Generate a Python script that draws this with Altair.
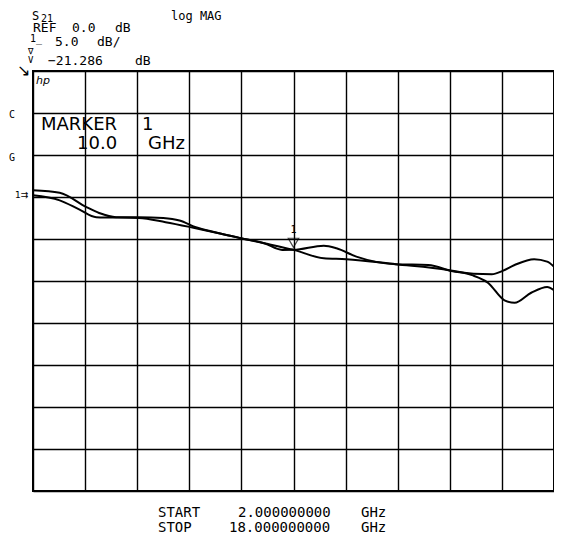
import altair as alt
import pandas as pd

# ---- data ----
freq1 = [2.0, 2.82, 3.64, 4.03, 4.55, 5.25, 6.0, 6.5, 7.0, 7.59, 8.38, 9.10, 10.0,
         10.93, 11.62, 13.14, 14.75, 15.48, 15.97, 16.48, 16.79, 17.30, 17.79, 18.0]
trace1 = [-14.2, -14.5, -16.2, -16.9, -17.4, -17.4, -17.5, -17.8, -18.6, -19.2, -19.9, -20.5, -21.29,
          -22.3, -22.4, -23.0, -23.7, -24.3, -25.2, -27.3, -27.6, -26.4, -25.7, -26.1]
freq2 = [2.0, 2.82, 3.43, 3.94, 5.25, 6.07, 6.86, 8.38, 9.10, 9.65, 10.0, 10.93,
         11.32, 11.93, 13.14, 14.14, 14.96, 16.09, 16.42, 16.79, 17.39, 17.79, 18.0]
trace2 = [-14.8, -15.4, -16.5, -17.4, -17.5, -18.0, -18.6, -19.9, -20.5, -21.3, -21.29, -20.8,
          -21.1, -22.1, -23.0, -23.1, -23.9, -24.2, -23.8, -23.1, -22.4, -22.7, -23.3]
marker_freq = [10.0]
marker_db = [-21.286]
x_ticks = [2 + 1.6 * i for i in range(11)]
y_ticks = [-50 + 5 * i for i in range(11)]

lines = pd.concat([
    pd.DataFrame({"freq": freq1, "db": trace1, "trace": "1"}),
    pd.DataFrame({"freq": freq2, "db": trace2, "trace": "2"}),
])
mk = pd.DataFrame({"freq": marker_freq, "db": marker_db})

X = alt.X("freq:Q", scale=alt.Scale(domain=[2, 18], nice=False, zero=False),
          axis=alt.Axis(values=x_ticks, grid=True, labels=False, ticks=False, domain=False,
                        title=None, gridColor="black", gridWidth=1.4, gridOpacity=1))
Y = alt.Y("db:Q", scale=alt.Scale(domain=[-50, 0], nice=False, zero=False),
          axis=alt.Axis(values=y_ticks, grid=True, labels=False, ticks=False, domain=False,
                        title=None, gridColor="black", gridWidth=1.4, gridOpacity=1))

trace_layer = alt.Chart(lines).mark_line(color="black", strokeWidth=2,
                                         interpolate="monotone").encode(x=X, y=Y, detail="trace:N")

marker_tri = alt.Chart(mk).mark_point(shape="triangle-down", size=110, filled=False,
                                      color="black", strokeWidth=1.2, yOffset=-7).encode(
    x="freq:Q", y="db:Q")
marker_num = alt.Chart(mk).mark_text(text="1", fontSize=10, font="DejaVu Sans Mono",
                                     color="black", dy=-20).encode(x="freq:Q", y="db:Q")

one = pd.DataFrame({"a": [0]})
MONO = "DejaVu Sans Mono"
SANS = "DejaVu Sans"


def txt(x, y, s, size=13, font=MONO, style="normal", align="left"):
    return alt.Chart(one).mark_text(align=align, baseline="alphabetic", fontSize=size,
                                    font=font, fontStyle=style, color="black").encode(
        x=alt.value(x), y=alt.value(y), text=alt.value(s))

ox, oy = 25, 63  # padding; page = padding + 8px margin

def T(px, py, s, **kw):
    return txt(px - ox - 8, py - oy - 8, s, **kw)

annotations = [
    T(32, 20, "S", size=12),
    T(41, 22, "21", size=10),
    T(171, 20, "log MAG", size=12),
    T(33, 32, "REF", size=13),
    T(72, 32, "0.0", size=13),
    T(115, 32, "dB", size=13),
    T(30, 42, "1\u0332", size=10),
    T(55, 46, "5.0", size=13),
    T(97, 46, "dB/", size=13),
    T(28, 54, "∇", size=9),
    T(28, 63, "V", size=9),
    T(48, 65, "−21.286", size=13),
    T(135, 65, "dB", size=13),
    T(17, 76, "↘", size=16, font=SANS),
    T(36, 84, "hp", size=11, font=SANS, style="italic"),
    T(9, 118, "C", size=10),
    T(9, 161, "G", size=10),
    T(15, 198, "1⇉", size=9, font=SANS),
    T(41, 130, "MARKER", size=18, font=SANS),
    T(142, 130, "1", size=18, font=SANS),
    T(77, 149, "10.0", size=18, font=SANS),
    T(148, 149, "GHz", size=18, font=SANS),
    T(158, 517, "START", size=14),
    T(238, 517, "2.000000000", size=14),
    T(361, 517, "GHz", size=14),
    T(158, 532, "STOP", size=14),
    T(229, 532, "18.000000000", size=14),
    T(361, 532, "GHz", size=14),
]

chart = alt.layer(trace_layer, marker_tri, marker_num, *annotations).properties(
    width=521, height=420,
    autosize=alt.AutoSizeParams(type="none"),
    padding={"left": ox, "top": oy, "right": 0, "bottom": 44},
    background="white",
).configure_view(stroke="black", strokeWidth=2)

chart.save("out.html", embed_options={"renderer": "svg", "actions": False})
